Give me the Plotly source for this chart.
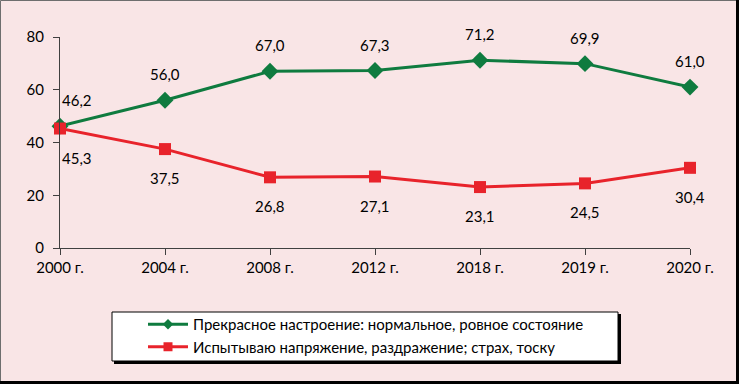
import plotly.graph_objects as go

categories = ["2000 г.", "2004 г.", "2008 г.", "2012 г.", "2018 г.", "2019 г.", "2020 г."]
good_mood = [46.2, 56.0, 67.0, 67.3, 71.2, 69.9, 61.0]
tension = [45.3, 37.5, 26.8, 27.1, 23.1, 24.5, 30.4]
name_good = "Прекрасное настроение: нормальное, ровное состояние"
name_tension = "Испытываю напряжение, раздражение; страх, тоску"
y_ticks = [0, 20, 40, 60, 80]

GREEN = "#0F7B3F"
RED = "#E8232B"
BG = "#F9E5E6"
FONT = "Lato, Liberation Sans, sans-serif"
FS = 15

W, H = 739, 384
L, R, T, B = 60, 49, 37, 136
PW, PH = W - L - R, H - T - B


def px(x):
    return (x - L) / PW


def py(y):
    return 1 - (y - T) / PH


def fmt(v):
    return f"{v:.1f}".replace(".", ",")


xs = list(range(len(categories)))
fig = go.Figure()
fig.add_trace(go.Scatter(
    x=xs, y=good_mood, name=name_good, showlegend=False, cliponaxis=False,
    mode="lines+markers",
    line=dict(color=GREEN, width=3),
    marker=dict(symbol="diamond", size=13, color=GREEN),
))
fig.add_trace(go.Scatter(
    x=xs, y=tension, name=name_tension, showlegend=False, cliponaxis=False,
    mode="lines+markers",
    line=dict(color=RED, width=3),
    marker=dict(symbol="square", size=12, color=RED),
))
# legend entries (smaller markers as in the reference legend)
fig.add_trace(go.Scatter(
    x=[None], y=[None], name=name_good, mode="lines+markers",
    line=dict(color=GREEN, width=3), marker=dict(symbol="diamond", size=8, color=GREEN),
))
fig.add_trace(go.Scatter(
    x=[None], y=[None], name=name_tension, mode="lines+markers",
    line=dict(color=RED, width=3), marker=dict(symbol="square", size=9, color=RED),
))

annotations = []
for i, v in enumerate(good_mood):
    annotations.append(dict(x=i, y=v, xref="x", yref="y", text=fmt(v), showarrow=False,
                            yshift=26, xshift=17 if i == 0 else 0,
                            font=dict(family=FONT, size=FS, color="#000")))
for i, v in enumerate(tension):
    annotations.append(dict(x=i, y=v, xref="x", yref="y", text=fmt(v), showarrow=False,
                            yshift=-29, xshift=17 if i == 0 else 0,
                            font=dict(family=FONT, size=FS, color="#000")))

shapes = [
    dict(type="line", xref="paper", yref="paper", x0=px(0.5), x1=px(737), y0=py(0.5), y1=py(0.5),
         line=dict(color="#6E6E6E", width=1)),
    dict(type="line", xref="paper", yref="paper", x0=px(0.5), x1=px(0.5), y0=py(0.5), y1=py(382),
         line=dict(color="#6E6E6E", width=1)),
    dict(type="line", xref="paper", yref="paper", x0=px(737.5), x1=px(737.5), y0=py(0), y1=py(384),
         line=dict(color="#000", width=3)),
    dict(type="line", xref="paper", yref="paper", x0=px(0), x1=px(739), y0=py(382.5), y1=py(382.5),
         line=dict(color="#000", width=3)),
    dict(type="rect", xref="paper", yref="paper", x0=px(114), x1=px(621), y0=py(314), y1=py(364),
         line=dict(width=0), fillcolor="#000", layer="below"),
    dict(type="rect", xref="paper", yref="paper", x0=px(112), x1=px(618), y0=py(312), y1=py(361),
         line=dict(color="#000", width=1), fillcolor="#FFFFFF", layer="below"),
]

fig.update_layout(
    width=W, height=H,
    margin=dict(l=L, r=R, t=T, b=B, autoexpand=False),
    paper_bgcolor=BG, plot_bgcolor=BG,
    font=dict(family=FONT, size=FS, color="#000"),
    showlegend=True,
    legend=dict(x=px(143), y=py(308), xanchor="left", yanchor="top",
                bgcolor="rgba(0,0,0,0)", borderwidth=0,
                font=dict(family=FONT, size=FS, color="#000"),
                itemwidth=40, tracegroupgap=0),
    xaxis=dict(range=[0, 6], tickmode="array", tickvals=xs,
               ticktext=categories, showgrid=False, zeroline=False,
               showline=True, linecolor="#404040", linewidth=1,
               ticks="outside", ticklen=6, tickcolor="#404040", fixedrange=True),
    yaxis=dict(range=[0, 80], tickvals=y_ticks, showgrid=False, zeroline=False,
               showline=True, linecolor="#404040", linewidth=1,
               ticks="outside", ticklen=6, tickcolor="#404040", fixedrange=True,
               ticklabelstandoff=6),
    annotations=annotations,
    shapes=shapes,
)

fig.write_html("out.html", config={"displayModeBar": False},
               post_script="document.body.style.margin='0';document.body.style.overflow='hidden';")
